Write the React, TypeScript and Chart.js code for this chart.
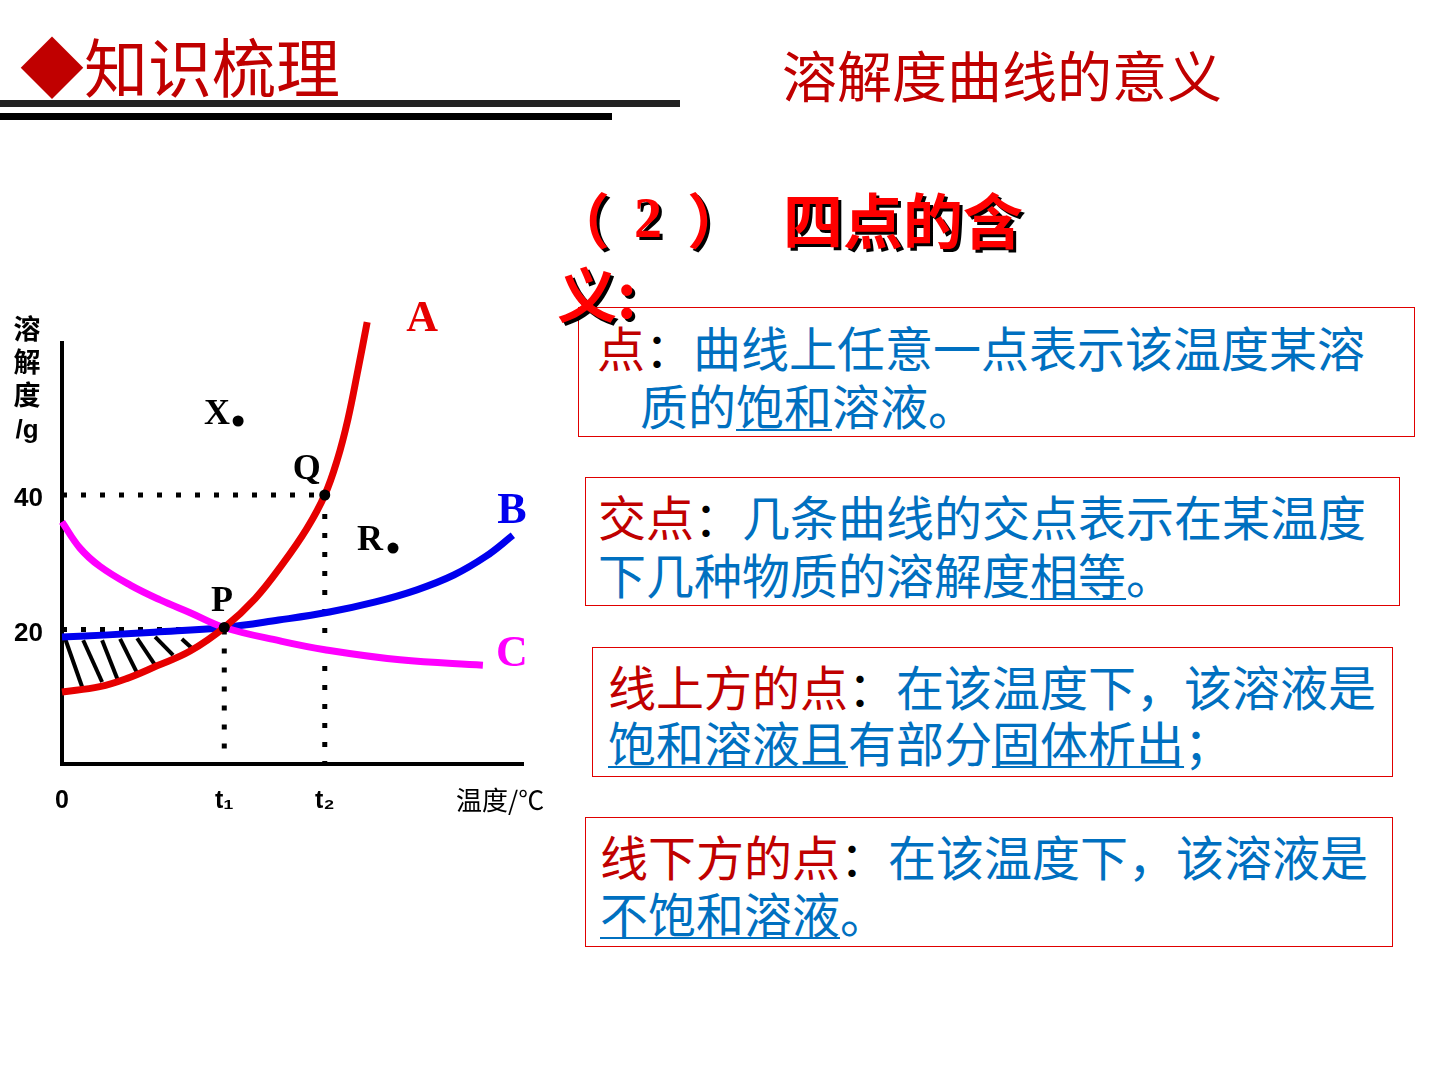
import React, { useEffect, useRef } from 'react';
import { Chart, registerables } from 'chart.js';

Chart.register(...registerables);

// ---- data (x: temperature in arbitrary units 0..100, y: solubility in g) ----
const T1 = 35.2;
const T2 = 57.0;
const xTickValues = [0, T1, T2];
const xTickLabels = ['0', 't\u2081', 't\u2082'];
const yTickValues = [20, 40];
const xMax = 100;
const yMax = 62.6;

const curveAX = [0, 8.2, 14.0, 20.6, 27.8, 35.2, 41.9, 47.9, 53.1, 57.0, 59.7, 62.0, 64.2, 66.2];
const curveAY = [10.7, 11.5, 12.7, 14.6, 16.8, 20.3, 24.6, 29.8, 35.0, 40.0, 45.2, 51.2, 58.6, 65.7];

const curveBX = [0, 10, 20, 35.2, 47, 58, 68, 77, 85, 92, 97.8];
const curveBY = [18.9, 19.2, 19.6, 20.3, 21.4, 22.6, 24.1, 25.9, 28.1, 30.9, 34.0];

const curveCX = [0, 3.9, 8.2, 14.8, 21.3, 27.8, 35.2, 47.3, 57.0, 73.3, 91.3];
const curveCY = [36.0, 32.1, 29.4, 26.6, 24.4, 22.5, 20.3, 18.3, 17.0, 15.5, 14.7];

const hatchTopX = [0.65, 4.6, 8.7, 12.6, 16.3, 20.2, 26.0];
const hatchTopY = [18.7, 18.4, 18.4, 18.6, 18.7, 18.9, 18.6];
const hatchBotX = [4.6, 8.7, 12.1, 16.3, 20.2, 24.1, 28.2];
const hatchBotY = [11.0, 12.2, 12.5, 13.5, 14.7, 16.2, 17.2];

const dotNames = ['P', 'Q', 'X', 'R'];
const dotX = [T1, T2, 38.2, 71.8];
const dotY = [20.3, 40, 51.0, 32.1];

const labelTexts = ['A', 'B', 'C', 'X', 'R', 'P', 'Q'];
const labelX = [78.1, 97.6, 97.6, 33.6, 66.8, 34.7, 53.1];
const labelY = [66.0, 37.5, 16.2, 51.9, 33.2, 24.1, 43.7];

const RED = '#E60000';
const BLUE = '#0000EE';
const MAGENTA = '#FF00FF';

const zip = (xs: number[], ys: number[]) => xs.map((x, i) => ({ x, y: ys[i] }));

const labelPlugin = {
  id: 'pointLabels',
  afterDatasetsDraw(chart: any) {
    const { ctx, scales } = chart;
    const colors: Record<string, string> = { A: RED, B: BLUE, C: MAGENTA };
    ctx.save();
    ctx.textAlign = 'center';
    ctx.textBaseline = 'middle';
    labelTexts.forEach((t, i) => {
      const big = t === 'A' || t === 'B' || t === 'C';
      ctx.font = `bold ${big ? 44 : 36}px "Liberation Serif", "Times New Roman", serif`;
      ctx.fillStyle = colors[t] || '#000';
      ctx.fillText(t, scales.x.getPixelForValue(labelX[i]), scales.y.getPixelForValue(labelY[i]));
    });
    ctx.restore();
  },
};

function SolubilityChart() {
  const ref = useRef<HTMLCanvasElement>(null);
  useEffect(() => {
    if (!ref.current) return;
    const dotted = (pts: { x: number; y: number }[]) => ({
      data: pts,
      borderColor: '#000',
      borderWidth: 5,
      borderDash: [5, 14],
      borderCapStyle: 'butt',
      pointRadius: 0,
      tension: 0,
      clip: false,
      order: 6,
    });
    const curve = (xs: number[], ys: number[], color: string, order: number) => ({
      data: zip(xs, ys),
      borderColor: color,
      borderWidth: 7,
      pointRadius: 0,
      tension: 0.4,
      clip: false,
      order,
    });
    const hatches = hatchTopX.map((x, i) => ({
      data: [
        { x, y: hatchTopY[i] },
        { x: hatchBotX[i], y: hatchBotY[i] },
      ],
      borderColor: '#000',
      borderWidth: 4,
      pointRadius: 0,
      clip: false,
      order: 5,
    }));
    const chart = new Chart(ref.current, {
      type: 'line',
      data: {
        datasets: [
          dotted([{ x: 0, y: 40 }, { x: T2, y: 40 }]),
          dotted([{ x: T2, y: 40 }, { x: T2, y: 0 }]),
          dotted([{ x: 0, y: 20 }, { x: T1, y: 20 }]),
          dotted([{ x: T1, y: 20 }, { x: T1, y: 1.5 }]),
          ...hatches,
          curve(curveBX, curveBY, BLUE, 3),
          curve(curveCX, curveCY, MAGENTA, 2),
          curve(curveAX, curveAY, RED, 1),
          {
            label: dotNames.join(','),
            data: zip(dotX, dotY),
            showLine: false,
            pointRadius: 5.5,
            pointBackgroundColor: '#000',
            pointBorderWidth: 0,
            clip: false,
            order: 0,
          },
        ] as any,
      },
      options: {
        animation: false,
        responsive: false,
        devicePixelRatio: 1,
        layout: { padding: { top: 43, right: 37, left: 0, bottom: 0 } },
        plugins: { legend: { display: false }, tooltip: { enabled: false } },
        scales: {
          x: {
            type: 'linear',
            min: 0,
            max: xMax,
            grid: { drawOnChartArea: false, drawTicks: false },
            border: { display: true, color: '#000', width: 4 },
            afterBuildTicks: (s: any) => {
              s.ticks = xTickValues.map((v) => ({ value: v }));
            },
            afterFit: (s: any) => {
              s.height = 66;
            },
            ticks: {
              color: '#000',
              padding: 22,
              autoSkip: false,
              maxRotation: 0,
              font: { family: '"Liberation Sans", "DejaVu Sans", sans-serif', size: 25, weight: 'bold' },
              callback: (_v: any, i: number) => xTickLabels[i],
            },
          },
          y: {
            type: 'linear',
            min: 0,
            max: yMax,
            grid: { drawOnChartArea: false, drawTicks: false },
            border: { display: true, color: '#000', width: 4 },
            afterBuildTicks: (s: any) => {
              s.ticks = yTickValues.map((v) => ({ value: v }));
            },
            afterFit: (s: any) => {
              s.width = 62;
            },
            ticks: {
              color: '#000',
              padding: 19,
              labelOffset: 4,
              autoSkip: false,
              font: { family: '"Liberation Sans", "DejaVu Sans", sans-serif', size: 26, weight: 'bold' },
              callback: (v: any) => String(v),
            },
          },
        },
      } as any,
      plugins: [labelPlugin],
    });
    return () => chart.destroy();
  }, []);
  return (
    <canvas
      ref={ref}
      width={560}
      height={530}
      style={{ position: 'absolute', left: 0, top: 300, width: 560, height: 530 }}
    />
  );
}

const CJK = '"Noto Sans CJK SC", "Noto Sans", sans-serif';
const TXT_RED = '#C00000';
const TXT_BLUE = '#0070C0';

const lineStyle = (left: number, top: number): React.CSSProperties => ({
  position: 'absolute',
  left,
  top,
  height: 48,
  fontFamily: CJK,
  fontSize: 48,
  lineHeight: '48px',
  whiteSpace: 'nowrap',
  color: TXT_BLUE,
});

const ib: React.CSSProperties = { display: 'inline-block', lineHeight: '48px', height: 48, verticalAlign: 'top' };

const T = ({ children }: { children: React.ReactNode }) => <span style={ib}>{children}</span>;
const U = ({ children }: { children: React.ReactNode }) => (
  <span style={{ ...ib, textDecoration: 'underline', textDecorationThickness: 2, textUnderlineOffset: 4 }}>{children}</span>
);
const R = ({ children }: { children: React.ReactNode }) => <span style={{ ...ib, color: TXT_RED }}>{children}</span>;
const K = () => <span style={{ ...ib, color: '#000' }}>：</span>;

const Box = ({ l, t, w, h }: { l: number; t: number; w: number; h: number }) => (
  <div
    style={{
      position: 'absolute',
      left: l,
      top: t,
      width: w,
      height: h,
      border: '1.5px solid #E00000',
      boxSizing: 'border-box',
    }}
  />
);

export default function App() {
  const bigRed: React.CSSProperties = {
    position: 'absolute',
    color: '#FF0000',
    fontWeight: 'bold',
    fontSize: 60,
    lineHeight: '60px',
    fontFamily: CJK,
    textShadow: '3px 3px 0 #000',
    whiteSpace: 'nowrap',
  };
  return (
    <div style={{ position: 'absolute', left: 0, top: 0, width: 1440, height: 1080, background: '#fff', overflow: 'hidden' }}>
      {/* header */}
      <div
        style={{
          position: 'absolute',
          left: 20,
          top: 32,
          fontFamily: CJK,
          fontSize: 64,
          lineHeight: '64px',
          color: '#C00000',
          whiteSpace: 'nowrap',
        }}
      >
        ◆知识梳理
      </div>
      <div style={{ position: 'absolute', left: 0, top: 100, width: 680, height: 7, background: '#222' }} />
      <div style={{ position: 'absolute', left: 0, top: 113, width: 612, height: 7, background: '#000' }} />
      <div
        style={{
          position: 'absolute',
          left: 782,
          top: 46,
          fontFamily: CJK,
          fontSize: 55,
          lineHeight: '55px',
          color: '#C00000',
          whiteSpace: 'nowrap',
        }}
      >
        溶解度曲线的意义
      </div>

      {/* chart */}
      <SolubilityChart />
      <div
        style={{
          position: 'absolute',
          left: 11,
          top: 311,
          width: 32,
          fontFamily: CJK,
          fontWeight: 'bold',
          fontSize: 27,
          lineHeight: '33px',
          color: '#000',
          textAlign: 'center',
        }}
      >
        溶<br />解<br />度<br />
        <span style={{ fontFamily: '"Liberation Sans", sans-serif', fontSize: 26 }}>/g</span>
      </div>
      <div
        style={{
          position: 'absolute',
          left: 456,
          top: 784,
          fontFamily: CJK,
          fontSize: 26,
          lineHeight: '30px',
          color: '#000',
          whiteSpace: 'nowrap',
        }}
      >
        温度/℃
      </div>

      {/* boxes */}
      <Box l={578} t={307} w={837} h={130} />
      <Box l={585} t={477} w={815} h={129} />
      <Box l={592} t={647} w={801} h={130} />
      <Box l={585} t={817} w={808} h={130} />

      <div style={lineStyle(597, 322)}>
        <R>点</R>
        <K />
        <T>曲线上任意一点表示该温度某溶</T>
      </div>
      <div style={lineStyle(640, 380)}>
        <T>质的</T>
        <U>饱和</U>
        <T>溶液。</T>
      </div>

      <div style={lineStyle(598, 491)}>
        <R>交点</R>
        <K />
        <T>几条曲线的交点表示在某温度</T>
      </div>
      <div style={lineStyle(598, 549)}>
        <T>下几种物质的溶解度</T>
        <U>相等</U>
        <T>。</T>
      </div>

      <div style={lineStyle(608, 661)}>
        <R>线上方的点</R>
        <K />
        <T>在该温度下，该溶液是</T>
      </div>
      <div style={lineStyle(608, 717)}>
        <U>饱和溶液且</U>
        <T>有部分</T>
        <U>固体析出</U>
        <T>；</T>
      </div>

      <div style={lineStyle(600, 831)}>
        <R>线下方的点</R>
        <K />
        <T>在该温度下，该溶液是</T>
      </div>
      <div style={lineStyle(600, 888)}>
        <U>不饱和溶液</U>
        <T>。</T>
      </div>

      {/* section title */}
      <div style={{ ...bigRed, left: 550, top: 188 }}>（</div>
      <div style={{ ...bigRed, left: 634, top: 188, fontFamily: '"Liberation Serif", serif', fontSize: 56 }}>2</div>
      <div style={{ ...bigRed, left: 687, top: 188 }}>）</div>
      <div style={{ ...bigRed, left: 783, top: 188 }}>四点的含</div>
      <div style={{ ...bigRed, left: 557, top: 262 }}>义:</div>
    </div>
  );
}
